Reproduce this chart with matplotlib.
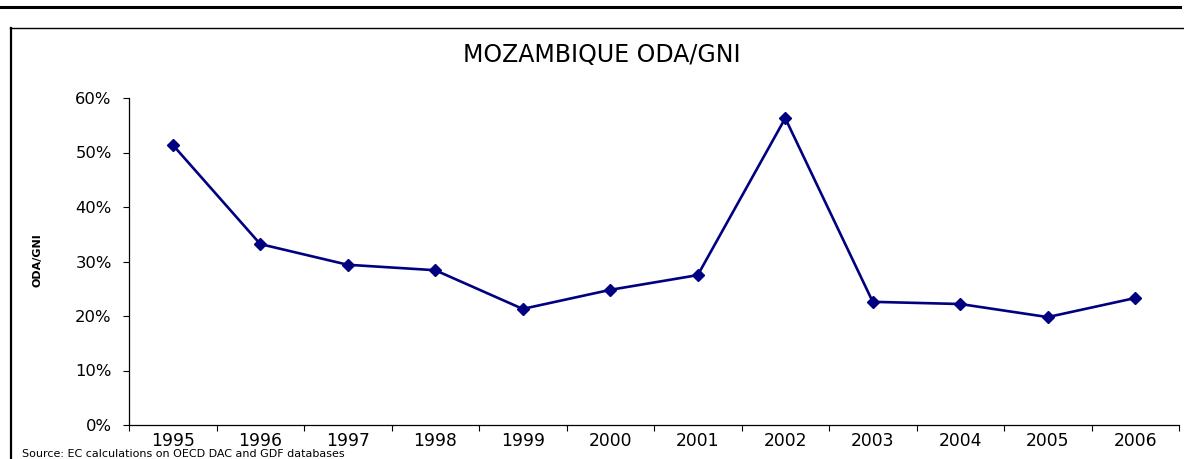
import matplotlib
matplotlib.use("Agg")
import matplotlib.pyplot as plt
from matplotlib.lines import Line2D
from matplotlib.ticker import FuncFormatter, FixedLocator

plt.rcParams['font.family'] = ['DejaVu Sans']

years = ['1995', '1996', '1997', '1998', '1999', '2000', '2001', '2002',
         '2003', '2004', '2005', '2006']
oda_gni = [51.4, 33.2, 29.4, 28.4, 21.3, 24.8, 27.5, 56.3, 22.6, 22.2, 19.8, 23.3]
title = 'MOZAMBIQUE ODA/GNI'
ylabel = 'ODA/GNI'
source = 'Source: EC calculations on OECD DAC and GDF databases'

W, H = 1184, 459
fig = plt.figure(figsize=(W / 100, H / 100), dpi=100)

# axes placement in pixels
x0, x1 = 129, 1179
y0, y1 = 425, 98
ax = fig.add_axes([x0 / W, 1 - y0 / H, (x1 - x0) / W, (y0 - y1) / H])

x = list(range(len(years)))
ax.plot(x, oda_gni, color='#000080', lw=1.9, marker='D', ms=6,
        markerfacecolor='#000080', markeredgecolor='#000080')

ax.set_xlim(-0.5, len(years) - 0.5)
ax.set_ylim(0, 60)
ax.set_yticks(range(0, 61, 10))
ax.yaxis.set_major_formatter(FuncFormatter(lambda v, p: f'{int(v)}%'))
ax.xaxis.set_major_locator(FixedLocator([i - 0.5 for i in range(len(years) + 1)]))
ax.xaxis.set_major_formatter(FuncFormatter(lambda v, p: ''))
ax.xaxis.set_minor_locator(FixedLocator(x))
ax.set_xticklabels(years, minor=True)
ax.tick_params(axis='x', which='minor', length=0, labelsize=12.3, pad=5)
ax.tick_params(axis='x', which='major', length=4, direction='out', width=0.8)
ax.tick_params(axis='y', length=4, direction='out', labelsize=11.8, pad=8.5, width=0.8)

for s in ['top', 'right']:
    ax.spines[s].set_visible(False)
ax.spines['left'].set_linewidth(0.9)
ax.spines['bottom'].set_linewidth(0.9)

ax.set_ylabel(ylabel, fontsize=8, fontweight='bold')
ax.yaxis.set_label_coords((42 - x0) / (x1 - x0), (y0 - 260) / (y0 - y1))

fig.text(602 / W, 1 - 55 / H, title, ha='center', va='center', fontsize=17)
fig.text(22 / W, 1 - 458.8 / H, source, ha='left', va='bottom', fontsize=8)

# decorative lines: top thick rule and chart box
fig.add_artist(Line2D([0, 1180 / W], [1 - 7 / H, 1 - 7 / H], color='black', lw=2.2,
                      transform=fig.transFigure))
fig.add_artist(Line2D([10 / W, 1], [1 - 28 / H, 1 - 28 / H], color='black', lw=1.0,
                      transform=fig.transFigure))
fig.add_artist(Line2D([10.5 / W, 10.5 / W], [0, 1 - 28 / H], color='black', lw=1.6,
                      transform=fig.transFigure))

fig.savefig('out.png', dpi=100)
